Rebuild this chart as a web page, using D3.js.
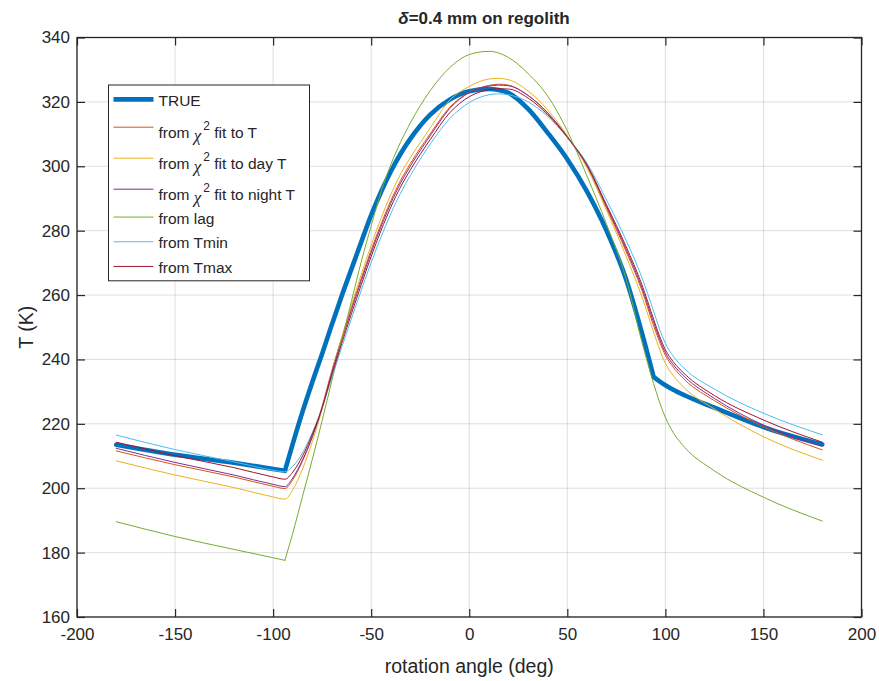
<!DOCTYPE html>
<html>
<head>
<meta charset="utf-8">
<script src="https://cdn.jsdelivr.net/npm/d3@7"></script>
<style>
  body { margin: 0; background: #fff; }
  text { font-family: "Liberation Sans", Arial, Helvetica, sans-serif; fill: #262626; }
</style>
</head>
<body>
<div id="chart"></div>
<script>
const angles = [-180, -150, -120, -100, -94, -90, -85, -80, -75, -70, -65, -60, -55, -50, -45, -40, -35, -30, -20, -10,
  0, 10, 15, 20, 30, 40, 50, 60, 70, 80, 88, 94, 97, 100, 104, 110, 125, 150, 180];

// T (K) for each curve
const tTrue = [213.5, 210.4, 207.9, 206.0, 205.4, 213.8, 223.8, 233.0, 241.8, 250.9, 259.8, 268.2, 276.6, 284.8, 292.0, 298.4, 303.9, 308.6, 316.0, 320.7,
  323.3, 324.0, 323.7, 322.8, 317.8, 310.4, 302.2, 292.2, 280.0, 264.8, 248.3, 234.6, 233.2, 232.0, 230.6, 228.8, 225.0, 219.0, 213.6];
const tFitT = [211.6, 207.3, 203.5, 200.6, 199.9, 202.6, 208.5, 216.0, 225.5, 236.7, 246.8, 256.3, 265.3, 274.0, 282.0, 289.3, 295.6, 300.9, 310.0, 318.3,
  323.0, 325.1, 325.5, 325.2, 322.0, 316.5, 309.0, 300.0, 287.0, 273.5, 261.5, 250.5, 245.5, 241.3, 237.6, 233.6, 227.2, 219.1, 211.9];
const tFitDay = [208.5, 204.1, 200.2, 197.3, 196.6, 199.5, 206.0, 214.5, 224.5, 236.0, 246.8, 257.0, 266.5, 275.5, 283.8, 291.2, 297.6, 302.7, 311.8, 320.5,
  324.8, 327.1, 327.3, 326.9, 323.4, 317.5, 309.5, 299.5, 286.3, 272.0, 259.5, 248.5, 243.2, 238.8, 235.0, 231.0, 224.6, 216.0, 208.7];
const tFitNight = [212.4, 208.0, 204.1, 201.2, 200.5, 203.2, 208.8, 216.0, 225.0, 236.0, 246.0, 255.5, 264.5, 273.2, 281.2, 288.5, 294.8, 300.1, 309.4, 317.9,
  322.9, 324.9, 325.2, 325.0, 322.0, 316.6, 309.2, 300.3, 287.5, 274.2, 262.3, 251.5, 246.4, 242.1, 238.4, 234.5, 227.9, 219.6, 213.1];
const tLag = [189.6, 185.0, 181.0, 178.4, 177.6, 186.0, 197.5, 209.0, 221.0, 233.5, 246.0, 258.3, 270.5, 281.5, 292.0, 300.5, 307.5, 313.5, 323.4, 330.6,
  334.7, 335.7, 335.2, 333.8, 328.8, 321.8, 311.0, 297.0, 282.0, 265.0, 245.5, 232.5, 226.8, 222.0, 217.3, 212.6, 205.4, 197.2, 189.8];
const tFromTmin = [216.5, 212.0, 208.2, 205.6, 205.1, 206.8, 211.0, 217.3, 225.0, 234.5, 243.8, 252.8, 261.6, 270.1, 278.0, 285.3, 291.7, 297.2, 306.8, 314.8,
  319.8, 322.2, 322.5, 322.2, 320.0, 315.5, 309.0, 301.0, 289.5, 277.0, 265.5, 255.0, 249.5, 245.0, 241.0, 237.0, 230.8, 223.3, 216.6];
const tFromTmax = [214.3, 210.1, 206.4, 203.5, 202.8, 205.0, 210.0, 216.8, 225.0, 235.3, 245.0, 254.3, 263.3, 272.0, 280.0, 287.3, 293.6, 298.9, 308.2, 316.6,
  321.6, 323.8, 324.1, 324.0, 321.2, 316.0, 309.0, 300.5, 288.0, 275.0, 263.3, 252.5, 247.3, 243.0, 239.3, 235.4, 228.8, 221.2, 214.3];

const legendLabels = ["TRUE", "from χ^2 fit to T", "from χ^2 fit to day T", "from χ^2 fit to night T", "from lag", "from Tmin", "from Tmax"];
const xTicks = [-200, -150, -100, -50, 0, 50, 100, 150, 200];
const yTicks = [160, 180, 200, 220, 240, 260, 280, 300, 320, 340];
const sunBreaks = [-94, 94]; // sunrise / sunset kinks of the TRUE curve

// MATLAB default colours
const series = [
  { values: tTrue, color: "#0072BD", width: 4.6, breaks: sunBreaks },
  { values: tFitT, color: "#D95319", width: 1 },
  { values: tFitDay, color: "#EDB120", width: 1 },
  { values: tFitNight, color: "#7E2F8E", width: 1 },
  { values: tLag, color: "#77AC30", width: 1, breaks: [-94] },
  { values: tFromTmin, color: "#4DBEEE", width: 1 },
  { values: tFromTmax, color: "#A2142F", width: 1 }
];

const W = 879, H = 681;
const box = { left: 77, right: 861.5, top: 37.5, bottom: 617 };

const x = d3.scaleLinear().domain([-200, 200]).range([box.left, box.right]);
const y = d3.scaleLinear().domain([160, 340]).range([box.bottom, box.top]);

const svg = d3.select("#chart").append("svg")
  .attr("width", W).attr("height", H)
  .style("background", "#fff");

// grid
const grid = svg.append("g").attr("stroke", "#000").attr("stroke-opacity", 0.13).attr("stroke-width", 1);
grid.selectAll(".gx").data(xTicks).enter().append("line")
  .attr("x1", d => x(d)).attr("x2", d => x(d))
  .attr("y1", box.top).attr("y2", box.bottom);
grid.selectAll(".gy").data(yTicks).enter().append("line")
  .attr("y1", d => y(d)).attr("y2", d => y(d))
  .attr("x1", box.left).attr("x2", box.right);

// curves
const line = d3.line().x(d => x(d[0])).y(d => y(d[1])).curve(d3.curveMonotoneX);

function pieces(values, breaks = []) {
  const segs = [];
  let cur = [];
  angles.forEach((a, i) => {
    cur.push([a, values[i]]);
    if (breaks.includes(a)) {
      segs.push(cur);
      cur = [[a, values[i]]];
    }
  });
  segs.push(cur);
  return segs;
}

svg.append("g").selectAll("path")
  .data(series).enter().append("path")
  .attr("fill", "none")
  .attr("stroke", d => d.color)
  .attr("stroke-width", d => d.width)
  .attr("stroke-linecap", "round")
  .attr("stroke-linejoin", "round")
  .attr("d", d => pieces(d.values, d.breaks).map(s => line(s)).join(""));

// axes (ticks pointing inward, box on)
const tickLen = 8;
const styleAxis = g => {
  g.select(".domain").remove();
  g.selectAll(".tick line").attr("stroke", "#262626").attr("stroke-width", 1.2);
  g.selectAll(".tick text").attr("fill", "#262626").style("font-size", "17px")
    .style("font-family", '"Liberation Sans", Arial, sans-serif');
};

svg.append("g").attr("transform", `translate(0,${box.bottom})`)
  .call(d3.axisBottom(x).tickValues(xTicks).tickSize(-tickLen).tickPadding(11).tickFormat(d => String(d)))
  .call(styleAxis);
svg.append("g").attr("transform", `translate(0,${box.top})`)
  .call(d3.axisTop(x).tickValues(xTicks).tickSize(-tickLen).tickFormat(""))
  .call(styleAxis);
svg.append("g").attr("transform", `translate(${box.left},0)`)
  .call(d3.axisLeft(y).tickValues(yTicks).tickSize(-tickLen).tickPadding(7).tickFormat(d => String(d)))
  .call(styleAxis);
svg.append("g").attr("transform", `translate(${box.right},0)`)
  .call(d3.axisRight(y).tickValues(yTicks).tickSize(-tickLen).tickFormat(""))
  .call(styleAxis);

svg.append("rect")
  .attr("x", box.left).attr("y", box.top)
  .attr("width", box.right - box.left).attr("height", box.bottom - box.top)
  .attr("fill", "none").attr("stroke", "#262626").attr("stroke-width", 1.3);

// title & labels
const title = svg.append("text")
  .attr("x", 484).attr("y", 24)
  .attr("text-anchor", "middle")
  .style("font-size", "17px").style("font-weight", "bold");
title.append("tspan").style("font-style", "italic").text("δ");
title.append("tspan").text("=0.4 mm on regolith");

svg.append("text")
  .attr("x", (box.left + box.right) / 2).attr("y", 673)
  .attr("text-anchor", "middle")
  .style("font-size", "19.5px")
  .text("rotation angle (deg)");

svg.append("text")
  .attr("transform", `translate(33,${(box.top + box.bottom) / 2}) rotate(-90)`)
  .attr("text-anchor", "middle")
  .style("font-size", "19.5px")
  .text("T (K)");

// legend
const lg = { x: 108.5, y: 85, w: 201, pad: 2, row: 24.7, supRow: 31 };
const rows = [];
let yy = lg.y + lg.pad;
legendLabels.forEach((lab, i) => {
  const sup = lab.includes("^");
  const h = sup ? lg.supRow : lg.row;
  rows.push({ lab, sup, cy: yy + h / 2, s: series[i] });
  yy += h;
});
const legend = svg.append("g");
legend.append("rect")
  .attr("x", lg.x).attr("y", lg.y)
  .attr("width", lg.w).attr("height", yy + lg.pad - lg.y)
  .attr("fill", "#fff").attr("stroke", "#262626").attr("stroke-width", 1);

const item = legend.selectAll(".item").data(rows).enter().append("g");
item.append("line")
  .attr("x1", lg.x + 5).attr("x2", lg.x + 45)
  .attr("y1", d => d.cy).attr("y2", d => d.cy)
  .attr("stroke", d => d.s.color)
  .attr("stroke-width", d => d.s.width);
item.append("text")
  .attr("x", lg.x + 50)
  .attr("y", d => d.cy + (d.sup ? 11 : 6.5))
  .style("font-size", "15.5px")
  .each(function (d) {
    const t = d3.select(this);
    if (!d.sup) { t.text(d.lab); return; }
    const [pre, post] = d.lab.split("χ^2");
    t.append("tspan").text(pre);
    t.append("tspan").style("font-family", '"Liberation Serif", "DejaVu Serif", serif')
      .style("font-style", "italic").style("font-size", "17px").attr("dy", 3).text("χ");
    t.append("tspan").style("font-size", "12px").attr("dy", -11).attr("dx", 2).text("2");
    t.append("tspan").attr("dy", 8).text(post);
  });
</script>
</body>
</html>
